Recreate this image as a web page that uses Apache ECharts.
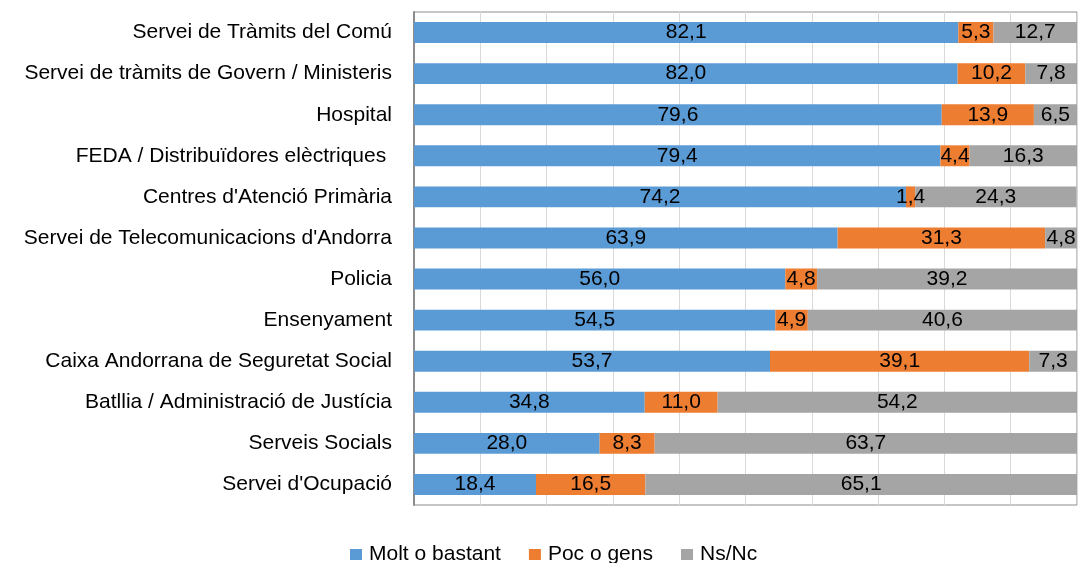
<!DOCTYPE html>
<html>
<head>
<meta charset="utf-8">
<script src="https://cdn.jsdelivr.net/npm/echarts@6/dist/echarts.min.js"></script>
<style>
  html, body { margin: 0; padding: 0; background: #fff; }
  #chart { width: 1078px; height: 563px; }
</style>
</head>
<body>
<div id="chart"></div>
<script>
  // categories top -> bottom
  var categories = [
    'Servei de Tràmits del Comú',
    'Servei de tràmits de Govern / Ministeris',
    'Hospital',
    'FEDA / Distribuïdores elèctriques ',
    "Centres d'Atenció Primària",
    "Servei de Telecomunicacions d'Andorra",
    'Policia',
    'Ensenyament',
    'Caixa Andorrana de Seguretat Social',
    'Batllia / Administració de Justícia',
    'Serveis Socials',
    "Servei d'Ocupació"
  ];
  var moltBastant = [82.1, 82.0, 79.6, 79.4, 74.2, 63.9, 56.0, 54.5, 53.7, 34.8, 28.0, 18.4];
  var pocGens     = [5.3, 10.2, 13.9, 4.4, 1.4, 31.3, 4.8, 4.9, 39.1, 11.0, 8.3, 16.5];
  var nsNc        = [12.7, 7.8, 6.5, 16.3, 24.3, 4.8, 39.2, 40.6, 7.3, 54.2, 63.7, 65.1];

  var font = '"Liberation Sans", Arial, sans-serif';

  function fmt(p) {
    return p.value.toFixed(1).replace('.', ',');
  }

  function serie(name, data, color) {
    return {
      name: name,
      type: 'bar',
      stack: 'total',
      barWidth: '51%',
      data: data,
      animation: false,
      itemStyle: { color: color },
      label: {
        show: true,
        position: 'inside',
        color: '#000',
        fontFamily: font,
        fontSize: 21,
        formatter: fmt
      }
    };
  }

  var chart = echarts.init(document.getElementById('chart'));
  chart.setOption({
    textStyle: { fontFamily: font },
    legend: {
      data: ['Molt o bastant', 'Poc o gens', 'Ns/Nc'],
      top: 539,
      left: 345,
      itemWidth: 12,
      itemHeight: 11,
      itemGap: 28,
      icon: 'rect',
      textStyle: { color: '#000', fontSize: 21, fontFamily: font, padding: [0, 0, 0, 2] }
    },
    grid: {
      left: 414,
      right: 1,
      top: 12,
      bottom: 58,
      show: true,
      borderColor: '#8c8c8c',
      borderWidth: 1,
      containLabel: false
    },
    xAxis: {
      type: 'value',
      min: 0,
      max: 100,
      interval: 10,
      axisLabel: { show: false },
      axisLine: { show: false },
      axisTick: { show: false },
      splitLine: { show: true, lineStyle: { color: '#d9d9d9', width: 1 } }
    },
    yAxis: {
      type: 'category',
      inverse: true,
      data: categories,
      axisTick: { show: false },
      axisLine: { show: true, lineStyle: { color: '#8c8c8c', width: 2 } },
      axisLabel: { color: '#000', fontSize: 21, margin: 22, fontFamily: font }
    },
    series: [
      serie('Molt o bastant', moltBastant, '#5b9bd5'),
      serie('Poc o gens', pocGens, '#ed7d31'),
      serie('Ns/Nc', nsNc, '#a5a5a5')
    ]
  });
</script>
</body>
</html>
